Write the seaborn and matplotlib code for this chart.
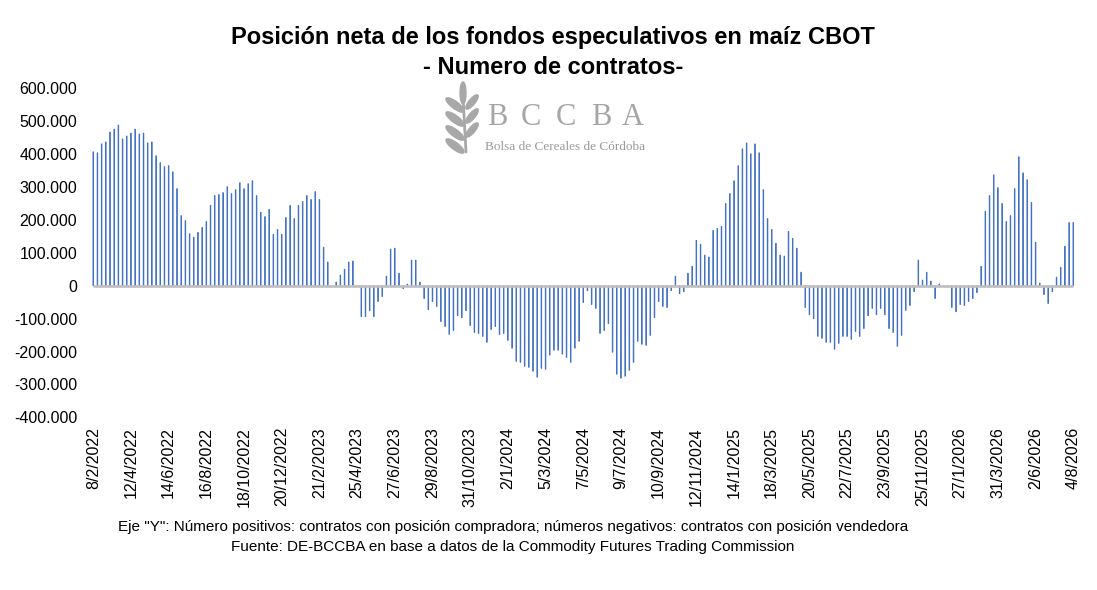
import numpy as np
import matplotlib
matplotlib.use("Agg")
import matplotlib.pyplot as plt
from matplotlib.patches import Ellipse
import seaborn as sns

# Net position (thousands of contracts), weekly from 8/2/2022 to 4/8/2026
net_position_k = [
    407, 404, 431, 437, 467, 476, 488, 446, 455, 464,
    476, 461, 464, 434, 437, 395, 374, 362, 365, 346,
    295, 213, 198, 158, 147, 162, 177, 195, 244, 274,
    277, 283, 301, 280, 292, 313, 295, 310, 319, 274,
    223, 210, 232, 156, 171, 156, 207, 244, 204, 244,
    256, 274, 262, 286, 262, 117, 72, 0, 11, 32,
    50, 72, 75, 0, -94, -94, -76, -94, -48, -33,
    29, 111, 114, 38, -9, 5, 78, 78, 11, -39,
    -73, -48, -63, -109, -124, -148, -136, -91, -97, -76,
    -121, -142, -145, -154, -172, -133, -124, -148, -145, -166,
    -190, -230, -233, -245, -248, -260, -278, -251, -254, -211,
    -196, -196, -208, -218, -233, -190, -169, -51, -15, -57,
    -69, -145, -136, -115, -202, -269, -281, -275, -257, -233,
    -169, -178, -181, -151, -97, -48, -63, -66, -15, 29,
    -24, -18, 38, 59, 138, 126, 93, 87, 168, 174,
    180, 250, 280, 319, 365, 416, 434, 401, 431,
    404, 292, 204, 171, 129, 93, 90, 165, 144, 114,
    41, -66, -88, -100, -154, -160, -172, -172, -193, -175,
    -154, -154, -163, -139, -154, -130, -91, -69, -88, -69,
    -88, -130, -142, -184, -151, -75, -60, -18, 78, 17,
    41, 14, -39, 5, 0, 0, -66, -79, -57, -60,
    -48, -39, -21, 59, 226, 274, 337, 298, 250, 195,
    213, 295, 392, 343, 322, 253, 132, 8, -27, -54,
    -18, 26, 56, 120, 192, 192,
]

tick_labels = [
    "8/2/2022", "12/4/2022", "14/6/2022", "16/8/2022", "18/10/2022",
    "20/12/2022", "21/2/2023", "25/4/2023", "27/6/2023", "29/8/2023",
    "31/10/2023", "2/1/2024", "5/3/2024", "7/5/2024", "9/7/2024",
    "10/9/2024", "12/11/2024", "14/1/2025", "18/3/2025", "20/5/2025",
    "22/7/2025", "23/9/2025", "25/11/2025", "27/1/2026", "31/3/2026",
    "2/6/2026", "4/8/2026",
]
tick_step = 9  # one label every 9 weeks

y_ticks = [-400000, -300000, -200000, -100000, 0, 100000, 200000, 300000, 400000, 500000, 600000]

title = "Posición neta de los fondos especulativos en maíz CBOT"
subtitle = "- Numero de contratos-"
note = 'Eje "Y": Número positivos: contratos con posición compradora; números negativos: contratos con posición vendedora'
source = "Fuente: DE-BCCBA en base a datos de la Commodity Futures Trading Commission"

sns.set_style("white")
plt.rcParams["font.family"] = ["Liberation Sans", "DejaVu Sans"]
plt.rcParams["text.color"] = "black"
plt.rcParams["xtick.color"] = "black"
plt.rcParams["ytick.color"] = "black"

values = np.array(net_position_k) * 1000
weeks = np.arange(len(values))
bar_color = "#4472C4"

fig = plt.figure(figsize=(10.97, 5.90), dpi=100)

# logo layer in pixel coordinates
logo = fig.add_axes([0, 0, 1, 1])
logo.set_xlim(0, 1097)
logo.set_ylim(590, 0)
logo.axis("off")
leaf = "#a8a8a8"
logo.plot([466, 463], [152, 96], color=leaf, lw=2, solid_capstyle="round")
logo.add_patch(Ellipse((463, 93), 6, 22, angle=0, color=leaf))
for yc in [105, 119, 133, 146]:
    logo.add_patch(Ellipse((455, yc), 22, 7, angle=37, color=leaf))
for yc in [102, 116, 130]:
    logo.add_patch(Ellipse((472, yc), 18, 6, angle=-50, color=leaf))
for xc, ch in zip([497, 531, 566, 601, 633], "BCCBA"):
    logo.text(xc, 125, ch, ha="center", va="baseline", fontsize=22,
              family="Liberation Serif", color="#a6a6a6")
logo.text(565, 150, "Bolsa de Cereales de Córdoba", ha="center", va="baseline",
          fontsize=9.5, family="Liberation Serif", color="#9a9a9a")

ax = fig.add_axes([0.0831, 0.2927, 0.8972, 0.5576])
ax.patch.set_alpha(0)
sns.barplot(x=weeks, y=values, native_scale=True, orient="x", color=bar_color,
            width=0.15, errorbar=None, saturation=1, ax=ax,
            edgecolor=bar_color, linewidth=0.6)
for p in ax.patches:
    p.set_snap(False)
ax.hlines(0, 0, len(values) - 1, color="#BFBFBF", lw=1.9, zorder=3)

ax.set_xlim(-0.5, len(values) - 0.5)
ax.set_ylim(-400000, 600000)
ax.set_yticks(y_ticks)
ax.set_yticklabels([f"{v:,.0f}".replace(",", ".") for v in y_ticks], fontsize=11.5)
ax.set_xticks(weeks[::tick_step])
ax.set_xticklabels(tick_labels, rotation=90, fontsize=11.5)
ax.tick_params(axis="y", length=0, pad=10)
ax.tick_params(axis="x", length=0, pad=7)
ax.set_xlabel("")
ax.set_ylabel("")
sns.despine(ax=ax, left=True, bottom=True)

fig.text(0.504, 0.936, title, ha="center", va="center", fontsize=17, fontweight="bold")
fig.text(0.504, 0.885, subtitle, ha="center", va="center", fontsize=17, fontweight="bold")
fig.text(0.4676, 0.1068, note, ha="center", va="center", fontsize=11)
fig.text(0.4676, 0.0729, source, ha="center", va="center", fontsize=11)

fig.savefig("out.png", dpi=100)
